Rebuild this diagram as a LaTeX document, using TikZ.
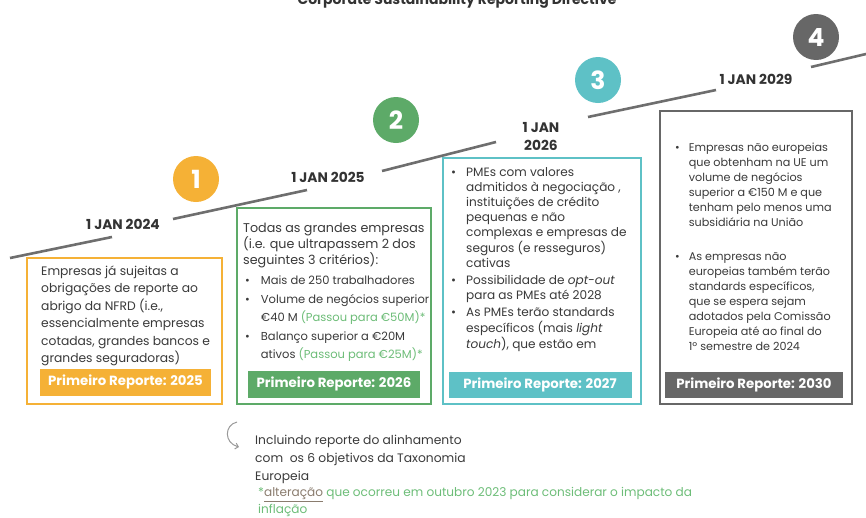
\documentclass[tikz,border=0pt]{standalone}
\usepackage{fontspec}
\setmainfont{Poppins}
\definecolor{csrdorange}{HTML}{F5B136}
\definecolor{csrdgreen}{HTML}{5DAA68}
\definecolor{csrdteal}{HTML}{5EC1C6}
\definecolor{csrdgray}{HTML}{676767}
\definecolor{csrdline}{HTML}{6E6E6E}
\definecolor{csrdtext}{HTML}{3A3A3A}
\definecolor{csrdlight}{HTML}{6DBD78}
\definecolor{csrdnote}{HTML}{8A7C6E}
\usetikzlibrary{arrows.meta,positioning}

\begin{document}
\begin{tikzpicture}[x=1pt,y=-1pt,text=csrdtext]
        \tikzset{
            csrdstep/.style={
                circle,
                fill=#1,
                minimum size=46pt,
                inner sep=0pt,
                text=white,
                font=\fontsize{25}{25}\selectfont\bfseries
            },
            csrddate/.style={
                align=center,
                inner sep=0pt,
                text=black!80,
                font=\fontsize{13.8}{18}\selectfont\bfseries
            },
            csrdbox/.style={
                draw=#1,
                fill=white,
                line width=2pt,
                inner sep=0pt
            },
            csrdfoot/.style={
                fill=#1,
                text=white,
                inner sep=0pt,
                font=\fontsize{13.3}{15}\selectfont\bfseries
            },
            csrdbody/.style={
                anchor=north west,
                inner sep=0pt,
                font=\fontsize{12.3}{#1}\selectfont
            },
            csrdtime/.style={
                draw=csrdline,
                line width=2.6pt
            }
        }

        \useasboundingbox (0,0) rectangle (866,517);

        \node[anchor=base,inner sep=0pt,text=black!80,
            font=\fontsize{14}{14}\selectfont\bfseries] (title) at (457,4)
            {Corporate Sustainability Reporting Directive};

        \coordinate (t0) at (10,258);
        \coordinate (t1) at (112,237);
        \coordinate (t2) at (173,219);
        \coordinate (t3) at (307,190);
        \coordinate (t4) at (382,171);
        \coordinate (t5) at (496,142);
        \coordinate (t6) at (588,117);
        \coordinate (t7) at (716,90);
        \coordinate (t8) at (811,67);
        \coordinate (t9) at (866,54);

        \draw[csrdtime] (t0) -- (t1);
        \draw[csrdtime] (t2) -- (t3);
        \draw[csrdtime] (t4) -- (t5);
        \draw[csrdtime] (t6) -- (t7);
        \draw[csrdtime] (t8) -- (t9);

        \node[csrddate] (date1) at (123,224) {1 JAN 2024};
        \node[csrddate] (date2) at (328,177) {1 JAN 2025};
        \node[csrddate] (date3) at (541,136) {1 JAN\\2026};
        \node[csrddate] (date4) at (756,79) {1 JAN 2029};

        \node[csrdstep=csrdorange] (step1) at (196,179) {1};
        \node[csrdstep=csrdgreen] (step2) at (396,120) {2};
        \node[csrdstep=csrdteal] (step3) at (598,80) {3};
        \node[csrdstep=csrdgray] (step4) at (816,37) {4};

        \node[csrdbox=csrdorange,minimum width=195pt,minimum height=146pt]
            (box1) at (124.5,331) {};
        \node[csrdbox=csrdgreen,minimum width=194pt,minimum height=196pt]
            (box2) at (334,306) {};
        \node[csrdbox=csrdteal,minimum width=198pt,minimum height=246pt]
            (box3) at (542,281) {};
        \node[csrdbox=csrdgray,minimum width=192pt,minimum height=293pt]
            (box4) at (756,257) {};

        \node[csrdbody=17.5] (body1) at (41,263)
            {\begin{tabular}{@{}l@{}}
            Empresas já sujeitas a\\
            obrigações de reporte ao\\
            abrigo da NFRD (i.e.,\\
            essencialmente empresas\\
            cotadas, grandes bancos e\\
            grandes seguradoras)
            \end{tabular}};

        \node[csrdbody=15,font=\fontsize{12.7}{15}\selectfont] (body2) at (243,221.5)
            {\begin{tabular}{@{}l@{}}
            Todas as grandes empresas\\
            (i.e. que ultrapassem 2 dos\\
            seguintes 3 critérios):
            \end{tabular}};
        \node[csrdbody=17.5,font=\fontsize{11.5}{17.5}\selectfont] (list2) at (245,272)
            {\begin{tabular}{@{}l@{\hspace{11pt}}l@{}}
            • & Mais de 250 trabalhadores\\[2pt]
            • & Volume de negócios superior\\
              & €40 M {\color{csrdlight}(Passou para €50M)*}\\[2pt]
            • & Balanço superior a €20M\\
              & ativos {\color{csrdlight}(Passou para €25M)*}
            \end{tabular}};

        \node[csrdbody=15,font=\fontsize{12.1}{15}\selectfont] (body3) at (451,166)
            {\begin{tabular}{@{}l@{\hspace{10pt}}l@{}}
            • & PMEs com valores\\
              & admitidos à negociação ,\\
              & instituições de crédito\\
              & pequenas e não\\
              & complexas e empresas de\\
              & seguros (e resseguros)\\
              & cativas\\[2pt]
            • & Possibilidade de \textit{opt-out}\\
              & para as PMEs até 2028\\[2pt]
            • & As PMEs terão standards\\
              & específicos (mais \textit{light}\\
              & \textit{touch}), que estão em
            \end{tabular}};

        \node[csrdbody=15,font=\fontsize{11.2}{15}\selectfont] (body4) at (675,141)
            {\begin{tabular}{@{}l@{\hspace{9pt}}l@{}}
            • & Empresas não europeias\\
              & que obtenham na UE um\\
              & volume de negócios\\
              & superior a €150 M e que\\
              & tenham pelo menos uma\\
              & subsidiária  na União\\[19pt]
            • & As empresas não\\
              & europeias também terão\\
              & standards específicos,\\
              & que se espera sejam\\
              & adotados pela Comissão\\
              & Europeia até ao final do\\
              & 1º semestre de 2024
            \end{tabular}};

        \node[csrdfoot=csrdorange,minimum width=171pt,minimum height=27pt]
            (foot1) at (125.5,382) {Primeiro Reporte: 2025};
        \node[csrdfoot=csrdgreen,minimum width=172pt,minimum height=27pt]
            (foot2) at (334,384) {Primeiro Reporte: 2026};
        \node[csrdfoot=csrdteal,minimum width=183pt,minimum height=26pt]
            (foot3) at (540,384.5) {Primeiro Reporte: 2027};
        \node[csrdfoot=csrdgray,minimum width=178pt,minimum height=26pt]
            (foot4) at (754,384.5) {Primeiro Reporte: 2030};

        \draw[draw=black!40,line width=1pt,-{Straight Barb[length=3pt]}]
            (237,422) .. controls (224,425) and (224,443) .. (239,447);

        \node[csrdbody=18,font=\fontsize{12.3}{18}\selectfont] (taxo) at (255,431.5)
            {\begin{tabular}{@{}l@{}}
            Incluindo reporte do alinhamento\\
            com\ \ os 6 objetivos da Taxonomia\\
            Europeia
            \end{tabular}};
        \node[csrdbody=16,font=\fontsize{12.1}{16}\selectfont,text=csrdlight] (note) at (258,485.5)
            {\begin{tabular}{@{}l@{}}
            *{\color{csrdnote}\underline{alteração}} que ocorreu em outubro 2023 para considerar o impacto da\\
            inflação
            \end{tabular}};
    \end{tikzpicture}
\end{document}
